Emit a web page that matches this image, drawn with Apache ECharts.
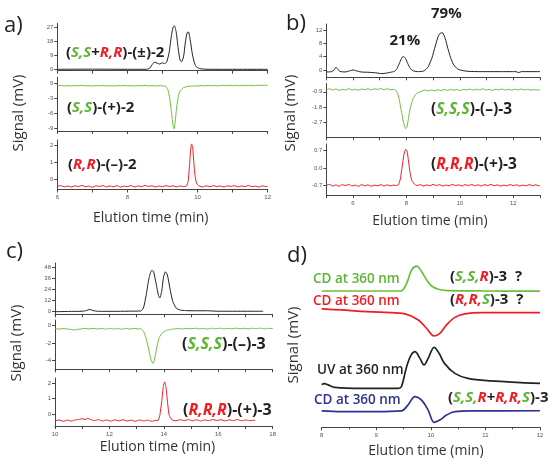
<!DOCTYPE html>
<html><head><meta charset="utf-8">
<script src="https://cdn.jsdelivr.net/npm/echarts@6/dist/echarts.min.js"></script>
<style>html,body{margin:0;padding:0;background:#fff}#c{width:551px;height:460px}</style>
</head><body><div id="c"></div>
<script>
// ---------------- DATA (elution time min, signal mV) ----------------
// Panel a: compound 2
const aMixUV = [[6,0],[7,0.1],[8,0],[8.55,0],[8.65,1],[8.72,3.6],[8.78,4.6],[8.85,3.9],[8.92,3.4],[9.0,4.2],[9.06,3.7],[9.12,4.6],[9.19,11],[9.25,21],[9.3,27],[9.34,28],[9.39,24],[9.45,13],[9.5,6],[9.54,4.8],[9.6,8],[9.65,17],[9.7,23.5],[9.74,24],[9.79,19],[9.85,10],[9.92,3.5],[9.98,1.3],[10.06,0.5],[10.15,0.2],[10.3,0],[12,0]];
const aSS_CD = [[6.0,-0.45],[6.1,-0.38],[6.2,-0.48],[6.3,-0.42],[6.4,-0.5],[6.5,-0.4],[6.6,-0.46],[6.7,-0.37],[6.8,-0.47],[6.9,-0.43],[7.0,-0.5],[7.1,-0.41],[7.2,-0.46],[7.3,-0.38],[7.4,-0.48],[7.5,-0.44],[7.6,-0.49],[7.7,-0.4],[7.8,-0.45],[7.9,-0.39],[8.0,-0.47],[8.1,-0.42],[8.2,-0.5],[8.3,-0.41],[8.4,-0.45],[8.5,-0.38],[8.6,-0.47],[8.7,-0.43],[8.8,-0.49],[8.9,-0.42],[9.0,-0.46],[9.1,-0.6],[9.16,-1.4],[9.21,-3.2],[9.26,-6],[9.3,-8.4],[9.33,-9.1],[9.36,-7.8],[9.4,-5],[9.45,-2.6],[9.5,-1.5],[9.58,-0.9],[9.7,-0.6],[9.85,-0.5],[10.0,-0.48],[10.1,-0.4],[10.2,-0.46],[10.3,-0.37],[10.4,-0.44],[10.5,-0.39],[10.6,-0.47],[10.7,-0.36],[10.8,-0.43],[10.9,-0.35],[11.0,-0.44],[11.1,-0.37],[11.2,-0.42],[11.3,-0.34],[11.4,-0.41],[11.5,-0.36],[11.6,-0.44],[11.7,-0.35],[11.8,-0.4],[11.9,-0.33],[12.0,-0.4]];
const aRR_CD = [[6.0,-0.4],[6.1,-0.35],[6.2,-0.43],[6.3,-0.37],[6.4,-0.44],[6.5,-0.36],[6.6,-0.41],[6.7,-0.34],[6.8,-0.42],[6.9,-0.38],[7.0,-0.45],[7.1,-0.36],[7.2,-0.4],[7.3,-0.35],[7.4,-0.43],[7.5,-0.37],[7.6,-0.42],[7.7,-0.35],[7.8,-0.44],[7.9,-0.38],[8.0,-0.41],[8.1,-0.35],[8.2,-0.43],[8.3,-0.37],[8.4,-0.42],[8.5,-0.34],[8.6,-0.4],[8.7,-0.36],[8.8,-0.44],[8.9,-0.37],[9.0,-0.42],[9.1,-0.35],[9.2,-0.41],[9.3,-0.36],[9.4,-0.43],[9.5,-0.37],[9.6,-0.41],[9.68,-0.38],[9.73,-0.1],[9.77,0.8],[9.8,1.7],[9.83,2.1],[9.86,1.9],[9.89,1.1],[9.93,0.2],[9.98,-0.25],[10.05,-0.38],[10.15,-0.43],[10.25,-0.36],[10.35,-0.42],[10.45,-0.35],[10.55,-0.41],[10.65,-0.37],[10.75,-0.44],[10.85,-0.36],[10.95,-0.4],[11.05,-0.35],[11.15,-0.43],[11.25,-0.37],[11.35,-0.41],[11.45,-0.34],[11.55,-0.42],[11.65,-0.38],[11.75,-0.44],[11.85,-0.36],[11.95,-0.41],[12.0,-0.39]];
const aTicksTop = [0,9,18,27];
const aTicksMid = [-9,-6,-3,0];
const aTicksBot = [0,1,2];

// Panel b: compound 3 (21% / 79%)
const bUV = [[5,-0.6],[5.2,-0.5],[5.3,0.1],[5.36,0.8],[5.42,0.4],[5.5,-0.4],[5.7,-0.6],[5.9,-0.2],[6.0,0],[6.1,-0.2],[6.3,-0.6],[6.6,-0.7],[6.9,-0.9],[7.05,-1.1],[7.2,-1.0],[7.4,-0.7],[7.55,-0.4],[7.65,0.4],[7.75,2.3],[7.84,3.8],[7.9,4.0],[7.97,3.4],[8.05,1.9],[8.15,0.4],[8.27,-0.3],[8.45,-0.5],[8.65,-0.3],[8.8,0.8],[8.95,3.5],[9.08,7.2],[9.2,10.3],[9.3,11.2],[9.36,11.1],[9.45,9.5],[9.55,6.5],[9.65,3.8],[9.75,1.8],[9.87,0.6],[10.0,0],[10.3,-0.4],[10.8,-0.5],[11.5,-0.5],[12.1,-0.5],[12.2,-0.8],[12.3,-0.5],[13,-0.5]];
const bSSS_CD = [[5.0,-0.78],[5.12,-0.73],[5.24,-0.8],[5.36,-0.74],[5.48,-0.82],[5.6,-0.76],[5.72,-0.79],[5.84,-0.72],[5.96,-0.8],[6.08,-0.75],[6.2,-0.81],[6.32,-0.74],[6.44,-0.78],[6.56,-0.72],[6.68,-0.79],[6.8,-0.73],[6.92,-0.77],[7.04,-0.71],[7.16,-0.79],[7.28,-0.72],[7.4,-0.78],[7.52,-0.76],[7.6,-0.82],[7.66,-0.95],[7.73,-1.35],[7.82,-2.1],[7.9,-2.75],[7.97,-3.05],[8.02,-2.95],[8.08,-2.4],[8.15,-1.8],[8.25,-1.3],[8.38,-1.0],[8.55,-0.88],[8.7,-0.8],[8.82,-0.85],[8.94,-0.79],[9.06,-0.84],[9.18,-0.78],[9.3,-0.83],[9.42,-0.77],[9.54,-0.82],[9.66,-0.76],[9.78,-0.81],[9.9,-0.77],[10.02,-0.83],[10.14,-0.76],[10.26,-0.8],[10.38,-0.74],[10.5,-0.81],[10.62,-0.75],[10.74,-0.79],[10.86,-0.73],[10.98,-0.8],[11.1,-0.76],[11.22,-0.82],[11.34,-0.75],[11.46,-0.79],[11.58,-0.74],[11.7,-0.8],[11.82,-0.76],[11.94,-0.81],[12.06,-0.75],[12.18,-0.79],[12.3,-0.74],[12.42,-0.8],[12.54,-0.76],[12.66,-0.81],[12.78,-0.77],[12.9,-0.8],[13.0,-0.78]];
const bRRR_CD = [[5.0,-0.7],[5.12,-0.66],[5.24,-0.73],[5.36,-0.68],[5.48,-0.74],[5.6,-0.67],[5.72,-0.71],[5.84,-0.66],[5.96,-0.73],[6.08,-0.69],[6.2,-0.74],[6.32,-0.67],[6.44,-0.72],[6.56,-0.68],[6.68,-0.74],[6.8,-0.69],[6.92,-0.72],[7.04,-0.67],[7.16,-0.73],[7.28,-0.68],[7.4,-0.72],[7.52,-0.69],[7.64,-0.71],[7.7,-0.68],[7.77,-0.45],[7.84,0.05],[7.91,0.55],[7.97,0.76],[8.02,0.7],[8.07,0.35],[8.13,-0.15],[8.2,-0.5],[8.3,-0.65],[8.4,-0.71],[8.52,-0.67],[8.64,-0.73],[8.76,-0.68],[8.88,-0.72],[9.0,-0.66],[9.12,-0.71],[9.24,-0.67],[9.36,-0.73],[9.48,-0.69],[9.6,-0.72],[9.72,-0.66],[9.84,-0.71],[9.96,-0.68],[10.08,-0.73],[10.2,-0.67],[10.32,-0.71],[10.44,-0.66],[10.56,-0.72],[10.68,-0.68],[10.8,-0.73],[10.92,-0.67],[11.04,-0.71],[11.16,-0.66],[11.28,-0.72],[11.4,-0.68],[11.52,-0.73],[11.64,-0.69],[11.76,-0.72],[11.88,-0.67],[12.0,-0.71],[12.12,-0.68],[12.24,-0.73],[12.36,-0.69],[12.48,-0.72],[12.6,-0.67],[12.72,-0.71],[12.84,-0.68],[12.96,-0.72],[13.0,-0.7]];
const bTicksTop = [0,4,8,12];
const bTicksMid = [-2.7,-1.8,-0.9];
const bTicksBot = [-0.7,0,0.7];

// Panel c: compound 3
const cUV = [[10,0],[10.6,0.3],[11.0,0.5],[11.15,1.2],[11.28,2.5],[11.4,1.2],[11.6,0.4],[12.3,0.4],[12.8,0.6],[13.15,0.8],[13.25,4],[13.35,18],[13.45,36],[13.55,45],[13.62,44],[13.72,30],[13.8,18],[13.85,15],[13.92,22],[13.99,38],[14.06,43.5],[14.13,40],[14.22,26],[14.32,12],[14.45,4],[14.6,1.8],[14.8,1.2],[15.2,1],[15.6,1],[16,0.5],[17.65,0.5]];
const cSSS_CD = [[10.0,-0.4],[10.15,-0.46],[10.3,-0.39],[10.45,-0.45],[10.6,-0.5],[10.7,-0.57],[10.8,-0.5],[10.95,-0.45],[11.1,-0.38],[11.25,-0.44],[11.4,-0.37],[11.55,-0.45],[11.7,-0.39],[11.85,-0.46],[12.0,-0.38],[12.15,-0.44],[12.3,-0.4],[12.45,-0.47],[12.6,-0.39],[12.75,-0.45],[12.9,-0.38],[13.05,-0.44],[13.15,-0.42],[13.25,-0.7],[13.35,-1.5],[13.45,-2.8],[13.53,-3.9],[13.6,-4.3],[13.66,-3.8],[13.74,-2.5],[13.83,-1.4],[13.95,-0.85],[14.1,-0.6],[14.25,-0.5],[14.4,-0.43],[14.55,-0.38],[14.7,-0.45],[14.85,-0.37],[15.0,-0.43],[15.15,-0.36],[15.3,-0.44],[15.45,-0.38],[15.6,-0.45],[15.75,-0.37],[15.9,-0.42],[16.05,-0.36],[16.2,-0.44],[16.35,-0.38],[16.5,-0.43],[16.65,-0.35],[16.8,-0.42],[16.95,-0.37],[17.1,-0.44],[17.25,-0.36],[17.4,-0.41],[17.55,-0.35],[17.7,-0.43],[17.85,-0.37],[18.0,-0.4]];
const cRRR_CD = [[10.0,-0.45],[10.15,-0.39],[10.3,-0.47],[10.45,-0.4],[10.6,-0.46],[10.75,-0.38],[10.9,-0.35],[11.0,-0.3],[11.1,-0.36],[11.2,-0.28],[11.3,-0.36],[11.45,-0.42],[11.6,-0.37],[11.75,-0.45],[11.9,-0.39],[12.05,-0.46],[12.2,-0.38],[12.35,-0.44],[12.5,-0.37],[12.65,-0.45],[12.8,-0.4],[12.95,-0.47],[13.1,-0.39],[13.25,-0.45],[13.4,-0.4],[13.55,-0.47],[13.7,-0.41],[13.78,-0.43],[13.85,-0.1],[13.92,0.8],[13.98,1.8],[14.03,2.1],[14.08,1.7],[14.14,0.7],[14.2,-0.1],[14.3,-0.38],[14.45,-0.44],[14.6,-0.37],[14.75,-0.43],[14.9,-0.36],[15.05,-0.44],[15.2,-0.38],[15.35,-0.45],[15.5,-0.39],[15.65,-0.43],[15.8,-0.36],[15.95,-0.42],[16.1,-0.37],[16.25,-0.45],[16.4,-0.38],[16.55,-0.43],[16.7,-0.36],[16.85,-0.44],[17.0,-0.39],[17.15,-0.43],[17.35,-0.4]];
const cTicksTop = [0,12,24,36,48];
const cTicksMid = [-4,-2,0];
const cTicksBot = [0,1,2];

// Panel d: stacked traces at 360 nm (relative signal units, offset)
const dSSR_CD = [[8,79.1],[9,79.1],[9.45,79.1],[9.556,83.6],[9.648,91.3],[9.74,93.6],[9.831,90.3],[9.923,85.5],[10.015,82.0],[10.137,80.1],[10.32,79.3],[11,79.1],[12,79.0]];
const dRRS_CD = [[8,68.7],[8.366,68.1],[8.733,67.3],[9.16,66.7],[9.527,65.8],[9.77,62.3],[9.92,57.5],[10.06,53.0],[10.165,54.5],[10.287,59.4],[10.44,63.8],[10.62,65.8],[10.93,66.5],[12,66.5]];
const dUV = [[8,24.8],[8.05,25.3],[8.12,24.6],[8.24,23.2],[8.73,22.6],[9.4,22.6],[9.46,23.5],[9.556,35.2],[9.64,42],[9.71,43.9],[9.8,40],[9.874,36.2],[9.95,40],[10.06,46.4],[10.15,43],[10.25,37.1],[10.44,31.3],[10.68,28.4],[11.1,27.0],[12,25.5]];
const dMixCD = [[8,9.5],[8.366,9.1],[8.977,9.1],[9.46,9.5],[9.58,12.9],[9.71,17.8],[9.83,15.8],[9.95,10.0],[10.06,2.9],[10.165,4.2],[10.287,7.1],[10.44,9.1],[10.8,9.5],[12,9.6]];

// ---------------- STYLE / LAYOUT ----------------
const FF = '"Open Sans","Noto Sans",sans-serif';
const GREEN = '#6cbf3c', GREEN_T = '#5cb531', RED = '#ee1d23', BLUE = '#2e3192', BLACK = '#222', AX = '#444';

// grid boxes: [left, top, right, bottom]
const boxes = [
  [57.3, 23.3, 267.7, 70.7], [57.3, 77.3, 267.7, 131], [57.3, 140, 267.7, 189.5],
  [326.3, 24, 540, 77.3], [326.3, 83.5, 540, 137.3], [326.3, 144, 540, 195],
  [55, 263, 272.7, 314.3], [55, 320, 272.7, 369.3], [55, 378, 272.7, 426],
  [321.7, 255, 540, 427.3]
];
const xr = [[6,12],[6,12],[6,12],[5,13],[5,13],[5,13],[10,18],[10,18],[10,18],[8,12]];
const xlab = [false,false,true,false,false,true,false,false,true,true];
const yr = [[-0.9,29.6],[-9.54,1.26],[-0.58,2.33],[-2.2,13.8],[-3.55,-0.42],[-1.09,0.97],[-2.84,53.1],[-4.96,0.56],[-0.78,2.35],[0,100]];
const yt = [aTicksTop,aTicksMid,aTicksBot,bTicksTop,bTicksMid,bTicksBot,cTicksTop,cTicksMid,cTicksBot,null];
const yfmt = [null,null,null,null,v=>v.toFixed(1),v=>v.toFixed(1),null,null,null,null];
const traces = [
  [aMixUV, BLACK, 1],[aSS_CD, GREEN, 1],[aRR_CD, RED, 1],
  [bUV, BLACK, 1],[bSSS_CD, GREEN, 1],[bRRR_CD, RED, 1],
  [cUV, BLACK, 1],[cSSS_CD, GREEN, 1],[cRRR_CD, RED, 1]
];

const grid = boxes.map(b => ({left:b[0], top:b[1], width:b[2]-b[0], height:b[3]-b[1]}));
const xAxis = boxes.map((b,i) => {
  const isD = i === 9;
  return {
    type:'value', gridIndex:i, min:xr[i][0], max:xr[i][1], interval:1,
    axisLine:{show:true,onZero:false,lineStyle:{color:AX,width:1}},
    axisTick:{show:true,length:3,lineStyle:{color:AX}},
    minorTick:{show:isD,splitNumber:2,length:2,lineStyle:{color:AX}},
    splitLine:{show:false},
    axisLabel:{show:xlab[i],fontSize:6,color:'#555',margin:5,fontFamily:'"Liberation Sans",sans-serif',
      showMinLabel:true,showMaxLabel:true,
      formatter: v => isD ? String(v) : (Math.round(v)%2===0 ? String(v) : '')}
  };
});
const yAxis = boxes.map((b,i) => {
  if (i === 9) return {type:'value',gridIndex:i,min:yr[i][0],max:yr[i][1],show:false};
  const lab = {fontSize:6,color:'#555',margin:4,fontFamily:'"Liberation Sans",sans-serif',customValues:yt[i]};
  if (yfmt[i]) lab.formatter = yfmt[i];
  return {
    type:'value', gridIndex:i, min:yr[i][0], max:yr[i][1],
    axisLine:{show:true,onZero:false,lineStyle:{color:AX,width:1}},
    axisTick:{show:true,length:3,customValues:yt[i],lineStyle:{color:AX}},
    splitLine:{show:false},
    axisLabel:lab
  };
});
const series = traces.map((t,i) => ({
  type:'line', xAxisIndex:i, yAxisIndex:i, data:t[0], showSymbol:false, symbol:'none',
  smooth:0.2, lineStyle:{color:t[1], width:t[2]}, silent:true
}));
[[dSSR_CD,GREEN],[dRRS_CD,RED],[dUV,BLACK],[dMixCD,BLUE]].forEach(t => series.push({
  type:'line', xAxisIndex:9, yAxisIndex:9, data:t[0], showSymbol:false, symbol:'none',
  smooth:0.35, lineStyle:{color:t[1], width:1.7}, silent:true
}));

// ---------------- TEXT ----------------
function rich(size){
  return {
    k:{fill:'#231f20',fontWeight:'bold',fontSize:size,fontFamily:FF},
    g:{fill:GREEN_T,fontWeight:'bold',fontStyle:'italic',fontSize:size,fontFamily:FF},
    r:{fill:RED,fontWeight:'bold',fontStyle:'italic',fontSize:size,fontFamily:FF}
  };
}
function rt(x,y,text,size){
  return {type:'text',x:x,y:y,silent:true,style:{text:text,rich:rich(size),font:'bold '+size+'px '+FF,
    align:'left',verticalAlign:'middle',textAlign:'left',textVerticalAlign:'middle'}};
}
function pt(x,y,text,size,color,weight,align,rot){
  return {type:'text',x:x,y:y,rotation:rot||0,silent:true,style:{text:text,fill:color,
    font:(weight||'normal')+' '+size+'px '+FF,align:align||'left',verticalAlign:'middle',
    textAlign:align||'left',textVerticalAlign:'middle'}};
}
const graphic = [
  pt(4,26,'a)',22,'#231f20'), pt(286,24,'b)',22,'#231f20'), pt(6,252,'c)',22,'#231f20'), pt(287,256,'d)',22,'#231f20'),
  pt(19,113,'Signal (mV)',15,'#333','normal','center',Math.PI/2),
  pt(291,113,'Signal (mV)',15,'#333','normal','center',Math.PI/2),
  pt(17,343,'Signal (mV)',15,'#333','normal','center',Math.PI/2),
  pt(294,345,'Signal (mV)',15,'#333','normal','center',Math.PI/2),
  pt(150.7,218,'Elution time (min)',14,'#333','normal','center'),
  pt(430,221,'Elution time (min)',14,'#333','normal','center'),
  pt(157.5,446.7,'Elution time (min)',14,'#333','normal','center'),
  pt(426,450.7,'Elution time (min)',14,'#333','normal','center'),
  rt(66,52.5,'{k|(}{g|S,S}{k|+}{r|R,R}{k|)-(±)-2}',15),
  rt(67,108,'{k|(}{g|S,S}{k|)-(+)-2}',15),
  rt(68,165,'{k|(}{r|R,R}{k|)-(–)-2}',15),
  pt(431,14,'79%',15,'#231f20','bold'),
  pt(389.5,40.8,'21%',15,'#231f20','bold'),
  rt(431,110,'{k|(}{g|S,S,S}{k|)-(–)-3}',15.5),
  rt(431,165,'{k|(}{r|R,R,R}{k|)-(+)-3}',15.5),
  rt(182,344.5,'{k|(}{g|S,S,S}{k|)-(–)-3}',16),
  rt(183,410.5,'{k|(}{r|R,R,R}{k|)-(+)-3}',16),
  pt(313,279,'CD at 360 nm',13.5,GREEN_T,'600'),
  pt(313,301,'CD at 360 nm',13.5,RED,'600'),
  pt(317,370,'UV at 360 nm',13.5,'#231f20','600'),
  pt(314,400,'CD at 360 nm',13.5,BLUE,'600'),
  rt(450,277,'{k|(}{g|S,S,}{r|R}{k|)-3  ?}',15),
  rt(450,300,'{k|(}{r|R,R,}{g|S}{k|)-3  ?}',15),
  rt(448,398,'{k|(}{g|S,S,}{r|R}{k|+}{r|R,R,}{g|S}{k|)-3}',15)
];

const chart = echarts.init(document.getElementById('c'), null, {renderer:'canvas'});
chart.setOption({animation:false, backgroundColor:'#fff', grid, xAxis, yAxis, series, graphic});
</script>
</body></html>
